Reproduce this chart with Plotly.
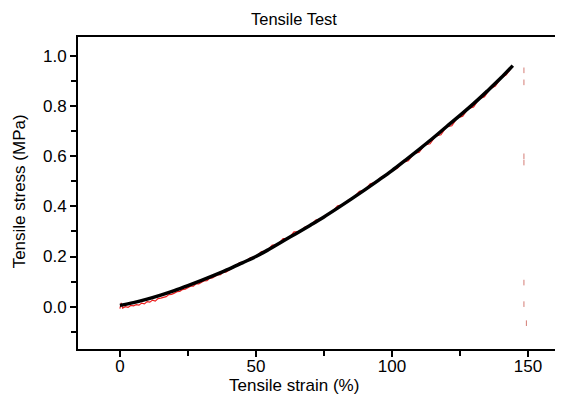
import plotly.graph_objects as go

# Fitted curve (black)
fit_strain = [0, 5, 10, 15, 20, 25, 30, 35, 40, 45, 50, 55, 60, 65, 70, 75, 80, 85, 90, 95,
              100, 105, 110, 115, 120, 125, 130, 135, 140, 144.4]
fit_stress = [0.005, 0.016, 0.030, 0.046, 0.064, 0.084, 0.105, 0.127, 0.150, 0.175, 0.200,
              0.230, 0.262, 0.293, 0.325, 0.358, 0.393, 0.429, 0.466, 0.504, 0.543, 0.585,
              0.628, 0.672, 0.718, 0.763, 0.810, 0.860, 0.912, 0.962]

# Raw measurement (red, noisy)
raw_strain = [0, 0.5, 1, 2, 3, 4, 5, 6, 7, 8, 9, 10, 11, 12, 13, 14, 15, 16, 17, 18, 19, 20,
              21, 22, 23, 24, 25, 26, 27, 28, 29, 30, 31, 32, 33, 34, 35, 36, 37, 38, 39, 40,
              42, 44, 46, 48, 50, 52, 54, 56, 58, 60, 62, 64, 66, 68, 70, 72, 74, 76, 78, 80,
              82, 84, 86, 88, 90, 92, 94, 96, 98, 100, 102, 104, 106, 108, 110, 112, 114, 116,
              118, 120, 122, 124, 126, 128, 130, 132, 134, 136, 138, 140, 142, 144]
raw_stress = [-0.008, 0.015, -0.006, 0.000, -0.003, 0.005, 0.003, 0.008, 0.006, 0.014, 0.011,
              0.020, 0.018, 0.026, 0.022, 0.032, 0.034, 0.038, 0.040, 0.048, 0.049, 0.054,
              0.060, 0.061, 0.068, 0.070, 0.076, 0.082, 0.082, 0.091, 0.091, 0.097, 0.103,
              0.104, 0.113, 0.115, 0.121, 0.127, 0.128, 0.139, 0.138, 0.144,
              0.158, 0.176, 0.178, 0.196, 0.198, 0.220, 0.222, 0.246, 0.247, 0.272, 0.273,
              0.298, 0.298, 0.318, 0.324, 0.346, 0.350, 0.368, 0.378, 0.402, 0.406, 0.426,
              0.436, 0.460, 0.465, 0.490, 0.496, 0.516, 0.527, 0.542,
              0.552, 0.576, 0.582, 0.610, 0.616, 0.645, 0.650, 0.680, 0.686, 0.717, 0.722,
              0.753, 0.760, 0.790, 0.797, 0.829, 0.838, 0.869, 0.880, 0.911, 0.925, 0.955]

# Stray points near the end of the test
stray_strain = [148.5, 148.5, 148.5, 148.5, 148.5, 148.5, 149.4]
stray_stress = [0.943, 0.895, 0.600, 0.575, 0.096, 0.010, -0.066]

x_tick_vals = [0, 50, 100, 150]
x_tick_text = ["0", "50", "100", "150"]
y_tick_vals = [0.0, 0.2, 0.4, 0.6, 0.8, 1.0]
y_tick_text = ["0.0", "0.2", "0.4", "0.6", "0.8", "1.0"]

font = "Liberation Sans, Arial, Helvetica, sans-serif"

fig = go.Figure()
fig.add_trace(go.Scatter(x=raw_strain, y=raw_stress, mode="lines",
                         line=dict(color="rgb(235,30,30)", width=1.2), hoverinfo="skip"))
fig.add_trace(go.Scatter(x=stray_strain, y=stray_stress, mode="markers",
                         marker=dict(color="rgba(200,90,80,0.8)", size=4, symbol="line-ns-open",
                                     line=dict(width=1, color="rgba(200,90,80,0.8)")),
                         hoverinfo="skip"))
fig.add_trace(go.Scatter(x=fit_strain, y=fit_stress, mode="lines", line_shape="spline",
                         line=dict(color="black", width=3.5)))

fig.update_layout(
    width=563, height=398,
    margin=dict(l=70, r=0, t=29, b=57, autoexpand=False),
    paper_bgcolor="white", plot_bgcolor="white",
    showlegend=False,
    font=dict(family=font, color="black", size=16),
    annotations=[
        dict(text="Tensile Test", xref="x", yref="paper", x=64, y=1.0, yshift=18,
             xanchor="center", yanchor="middle", showarrow=False,
             font=dict(size=16.5, family=font, color="black")),
        dict(text="Tensile strain (%)", xref="x", yref="paper", x=64, y=0, yshift=-36,
             xanchor="center", yanchor="middle", showarrow=False,
             font=dict(size=17, family=font, color="black")),
        dict(text="Tensile stress (MPa)", xref="paper", yref="y", x=0, xshift=-59, y=0.46,
             xanchor="center", yanchor="middle", textangle=-90, showarrow=False,
             font=dict(size=17, family=font, color="black")),
    ],
)
fig.update_xaxes(
    range=[-15.4, 165.8], showgrid=False, zeroline=False, automargin=False,
    showline=True, linecolor="black", linewidth=2, mirror=True,
    tickmode="array", tickvals=x_tick_vals, ticktext=x_tick_text,
    ticks="outside", ticklen=6, tickwidth=2, tickcolor="black", ticklabelstandoff=-5,
    minor=dict(tickmode="array", tickvals=[25, 75, 125], ticks="outside", ticklen=5,
               tickwidth=2, tickcolor="black"),
    tickfont=dict(size=17),
)
fig.update_yaxes(
    range=[-0.169, 1.076], showgrid=False, zeroline=False, automargin=False,
    showline=True, linecolor="black", linewidth=2,
    tickmode="array", tickvals=y_tick_vals, ticktext=y_tick_text,
    ticks="outside", ticklen=6, tickwidth=2, tickcolor="black", ticklabelstandoff=0,
    minor=dict(tickmode="array", tickvals=[-0.1, 0.1, 0.3, 0.5, 0.7, 0.9], ticks="outside",
               ticklen=5, tickwidth=2, tickcolor="black"),
    tickfont=dict(size=17),
)

fig.write_html("out.html")
